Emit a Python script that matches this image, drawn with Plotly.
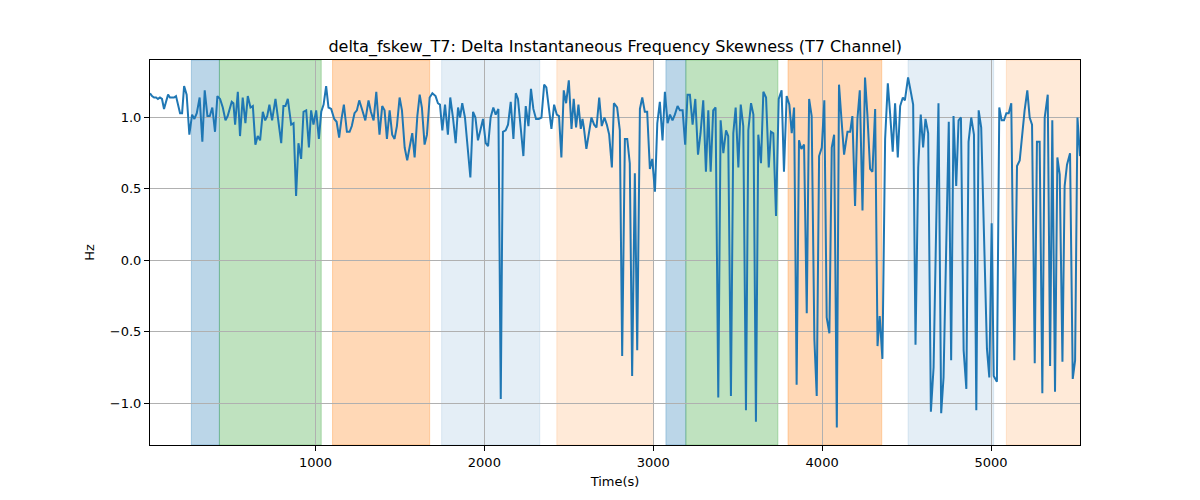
import plotly.graph_objects as go

# ---- data ----
time_s = [
    20, 32, 44, 56, 67, 79, 91, 103, 115, 127, 138, 150, 162, 174, 186, 198, 210, 222, 237, 253,
    269, 283, 297, 314, 330, 344, 360, 374, 389, 405, 419, 435, 451, 467, 480, 494, 504, 514, 524, 540,
    553, 569, 585, 599, 615, 629, 644, 658, 672, 688, 702, 714, 727, 743, 763, 797, 810, 822, 836, 856,
    870, 885, 899, 915, 929, 945, 961, 974, 988, 1004, 1020, 1034, 1048, 1063, 1077, 1093, 1111, 1125, 1140, 1154,
    1168, 1186, 1202, 1215, 1231, 1245, 1259, 1275, 1295, 1314, 1328, 1344, 1360, 1379, 1395, 1409, 1423, 1439, 1454, 1468,
    1482, 1498, 1512, 1528, 1543, 1557, 1573, 1587, 1603, 1617, 1630, 1646, 1660, 1676, 1692, 1711, 1725, 1737, 1751, 1767,
    1784, 1798, 1814, 1830, 1844, 1856, 1869, 1885, 1899, 1917, 1933, 1947, 1962, 1976, 1992, 2008, 2022, 2037, 2053, 2067,
    2083, 2097, 2110, 2126, 2140, 2156, 2172, 2186, 2199, 2215, 2231, 2245, 2261, 2276, 2290, 2306, 2322, 2338, 2354, 2367,
    2383, 2397, 2413, 2429, 2442, 2456, 2470, 2484, 2500, 2516, 2529, 2543, 2557, 2571, 2581, 2589, 2604, 2620, 2634, 2650,
    2664, 2680, 2695, 2711, 2725, 2739, 2755, 2767, 2786, 2802, 2816, 2832, 2846, 2861, 2875, 2891, 2905, 2921, 2935, 2950,
    2964, 2980, 2994, 3010, 3024, 3039, 3055, 3069, 3085, 3099, 3114, 3128, 3144, 3158, 3174, 3189, 3203, 3217, 3233, 3249,
    3265, 3280, 3296, 3312, 3326, 3340, 3355, 3369, 3385, 3399, 3415, 3431, 3444, 3460, 3474, 3488, 3504, 3518, 3533, 3549,
    3563, 3579, 3593, 3608, 3622, 3638, 3652, 3668, 3684, 3697, 3711, 3727, 3743, 3760, 3774, 3790, 3806, 3820, 3834, 3849,
    3863, 3877, 3893, 3909, 3923, 3938, 3954, 3968, 3982, 3998, 4013, 4027, 4043, 4057, 4071, 4087, 4100, 4115, 4130, 4140,
    4150, 4166, 4179, 4195, 4209, 4223, 4239, 4254, 4268, 4284, 4298, 4314, 4328, 4341, 4357, 4373, 4389, 4403, 4418, 4432,
    4448, 4462, 4478, 4490, 4509, 4525, 4539, 4553, 4569, 4584, 4598, 4612, 4628, 4644, 4660, 4689, 4705, 4719, 4750, 4764,
    4778, 4794, 4808, 4822, 4838, 4854, 4867, 4883, 4899, 4913, 4927, 4942, 4976, 4990, 5004, 5016, 5035, 5049, 5063, 5077,
    5091, 5105, 5120, 5138, 5154, 5170, 5186, 5199, 5215, 5229, 5243, 5259, 5272, 5288, 5304, 5318, 5336, 5350, 5363, 5379,
    5393, 5407, 5423, 5436, 5450, 5468, 5484, 5498, 5512, 5527,
]
delta_fskew = [
    1.17, 1.15, 1.14, 1.14, 1.13, 1.14, 1.13, 1.06, 1.11, 1.16, 1.14, 1.14, 1.14, 1.15, 1.08, 1.03, 1.03, 1.22, 1.16, 0.88,
    1.02, 0.99, 1.03, 1.14, 0.83, 1.19, 1.01, 1.01, 1.07, 0.90, 1.15, 1.13, 1.07, 0.98, 1.01, 1.06, 1.11, 1.10, 0.95, 1.18,
    0.87, 1.14, 0.96, 1.15, 1.07, 1.08, 0.81, 0.87, 0.84, 1.04, 0.98, 1.01, 1.09, 0.98, 1.13, 0.82, 1.08, 1.08, 1.13, 0.95,
    0.96, 0.45, 0.82, 0.71, 1.04, 1.05, 0.79, 1.05, 0.95, 1.05, 0.85, 1.04, 1.09, 1.22, 1.07, 1.06, 0.99, 0.97, 0.86, 0.99,
    1.09, 0.90, 0.90, 0.94, 1.03, 1.05, 1.12, 1.06, 0.98, 1.12, 1.04, 0.98, 1.18, 0.88, 1.08, 1.05, 0.85, 1.05, 0.88, 0.85,
    0.94, 1.14, 1.05, 0.79, 0.70, 0.79, 0.89, 0.72, 1.01, 1.16, 1.07, 0.81, 0.88, 1.14, 1.17, 1.15, 1.10, 1.09, 0.91, 1.09,
    0.88, 1.14, 1.00, 0.82, 1.07, 1.00, 1.10, 1.00, 0.83, 0.58, 1.04, 1.00, 0.84, 0.91, 0.99, 0.82, 0.80, 1.00, 1.07, 1.02,
    1.06, -0.97, 0.90, 0.91, 0.95, 1.11, 0.85, 1.17, 1.13, 0.93, 0.73, 1.08, 0.94, 1.20, 1.06, 0.99, 0.99, 1.00, 1.23, 1.21,
    1.06, 0.92, 1.09, 1.02, 1.01, 0.72, 1.19, 1.10, 1.26, 0.92, 1.13, 0.93, 1.09, 0.92, 0.99, 0.93, 0.78, 0.90, 1.00, 0.95,
    0.93, 1.14, 0.94, 1.00, 0.95, 0.88, 0.65, 1.10, 1.07, 0.91, -0.67, 0.85, 0.85, 0.68, -0.81, 0.61, -0.63, 1.06, 1.14, 1.04,
    1.04, 0.64, 0.71, 0.48, 0.96, 1.11, 0.84, 1.18, 0.96, 1.02, 0.98, 1.02, 1.08, 1.05, 1.05, 0.81, 1.16, 1.16, 0.95, 1.13,
    0.74, 0.89, 1.12, 0.62, 1.05, 0.62, 1.05, 1.07, -0.96, 0.98, 0.75, 0.91, 0.87, -0.95, 0.89, 1.07, 0.65, 1.09, 0.94, -1.05,
    0.91, 1.10, 1.02, -1.13, 0.88, 0.68, 1.18, 1.14, 0.65, 0.90, 0.89, 0.31, 1.13, 1.19, 0.62, 1.15, 1.09, 0.89, 1.07, -0.87,
    0.84, 0.78, 0.81, -0.37, 1.13, 1.01, -0.55, -0.95, 0.73, 0.79, 1.12, -0.40, -0.51, 0.79, 0.88, -1.17, 1.23, 0.98, 0.74, 0.82,
    0.90, 0.90, 1.01, 0.38, 0.99, 1.19, 0.35, 1.28, 1.02, 0.64, 0.62, 1.06, -0.60, -0.39, -0.69, 0.85, 1.24, 1.02, 0.76, 1.10,
    0.72, 1.08, 1.14, 1.12, 1.28, 1.18, 1.09, -0.59, 0.65, 1.02, 0.79, 0.99, 0.89, -1.06, -0.75, 1.10, -1.07, -0.82, 0.97, -0.70,
    1.01, 0.52, 0.98, 1.00, -0.63, -0.90, 0.83, 1.00, 0.88, -1.05, 1.05, 0.93, -0.62, -0.82, 0.26, -0.81, -0.85, 1.07, 0.98, 0.98,
    1.03, 1.03, 1.10, -0.70, 0.66, 0.70, 0.90, 1.05, 1.19, 1.00, 0.95, -0.72, 0.83, 0.83, -0.93, 1.00, 1.16, -0.74, 0.98, -0.92,
    0.72, 0.60, -0.71, 0.52, 0.67, 0.75, -0.83, -0.70, 1.00, 0.73,
]

# shaded intervals (seconds) and their kind
region_start = [265, 431, 1101, 1747, 2429, 3075, 3193, 3798, 4509, 5091]
region_end = [431, 1034, 1676, 2328, 3002, 3193, 3738, 4353, 5016, 5560]
region_kind = ["blue", "green", "orange", "lightblue", "lightorange",
               "blue", "green", "orange", "lightblue", "lightorange"]

x_ticks = [1000, 2000, 3000, 4000, 5000]
y_ticks = [-1.0, -0.5, 0.0, 0.5, 1.0]

# ---- styles ----
kind_fill = {
    "blue": "rgba(31,119,180,0.30)",
    "green": "rgba(44,160,44,0.30)",
    "orange": "rgba(255,127,14,0.30)",
    "lightblue": "rgba(31,119,180,0.12)",
    "lightorange": "rgba(255,140,40,0.18)",
}

font_family = "DejaVu Sans"

fig = go.Figure()
fig.add_trace(go.Scatter(
    x=time_s, y=delta_fskew, mode="lines",
    line=dict(color="#1f77b4", width=2),
    showlegend=False, hoverinfo="x+y",
))

for s, e, k in zip(region_start, region_end, region_kind):
    fig.add_vrect(x0=s, x1=e, fillcolor=kind_fill[k], line=dict(color=kind_fill[k], width=1),
                  layer="below")

x_min, x_max = min(time_s), max(time_s)
y_min, y_max = min(delta_fskew), max(delta_fskew)
pad = 0.05 * (y_max - y_min)

fig.update_layout(
    width=1200, height=500,
    margin=dict(l=142, r=128, t=52, b=63),
    paper_bgcolor="white", plot_bgcolor="white",
    font=dict(family=font_family, size=13, color="black"),
    title=dict(text="delta_fskew_T7: Delta Instantaneous Frequency Skewness (T7 Channel)",
               x=0.506, xanchor="center", y=0.924, yanchor="middle",
               font=dict(size=16, family=font_family, color="black")),
)
fig.update_xaxes(
    range=[x_min, x_max], tickvals=x_ticks, ticktext=[str(v) for v in x_ticks],
    showline=True, mirror=True, linecolor="black", linewidth=1,
    ticks="outside", ticklen=5, tickcolor="black", tickwidth=1,
    showgrid=True, gridcolor="#b0b0b0", gridwidth=1, zeroline=False,
    title=dict(text="Time(s)", standoff=8, font=dict(size=13)),
    tickfont=dict(size=13),
)
fig.update_yaxes(
    range=[y_min - pad, y_max + pad], tickvals=y_ticks,
    ticktext=[f"{v:.1f}".replace("-", "\u2212") for v in y_ticks],
    showline=True, mirror=True, linecolor="black", linewidth=1,
    ticks="outside", ticklen=5, tickcolor="black", tickwidth=1,
    showgrid=True, gridcolor="#b0b0b0", gridwidth=1, zeroline=False,
    title=dict(text="Hz", standoff=12, font=dict(size=13)),
    tickfont=dict(size=13),
)

fig.write_html("out.html")
